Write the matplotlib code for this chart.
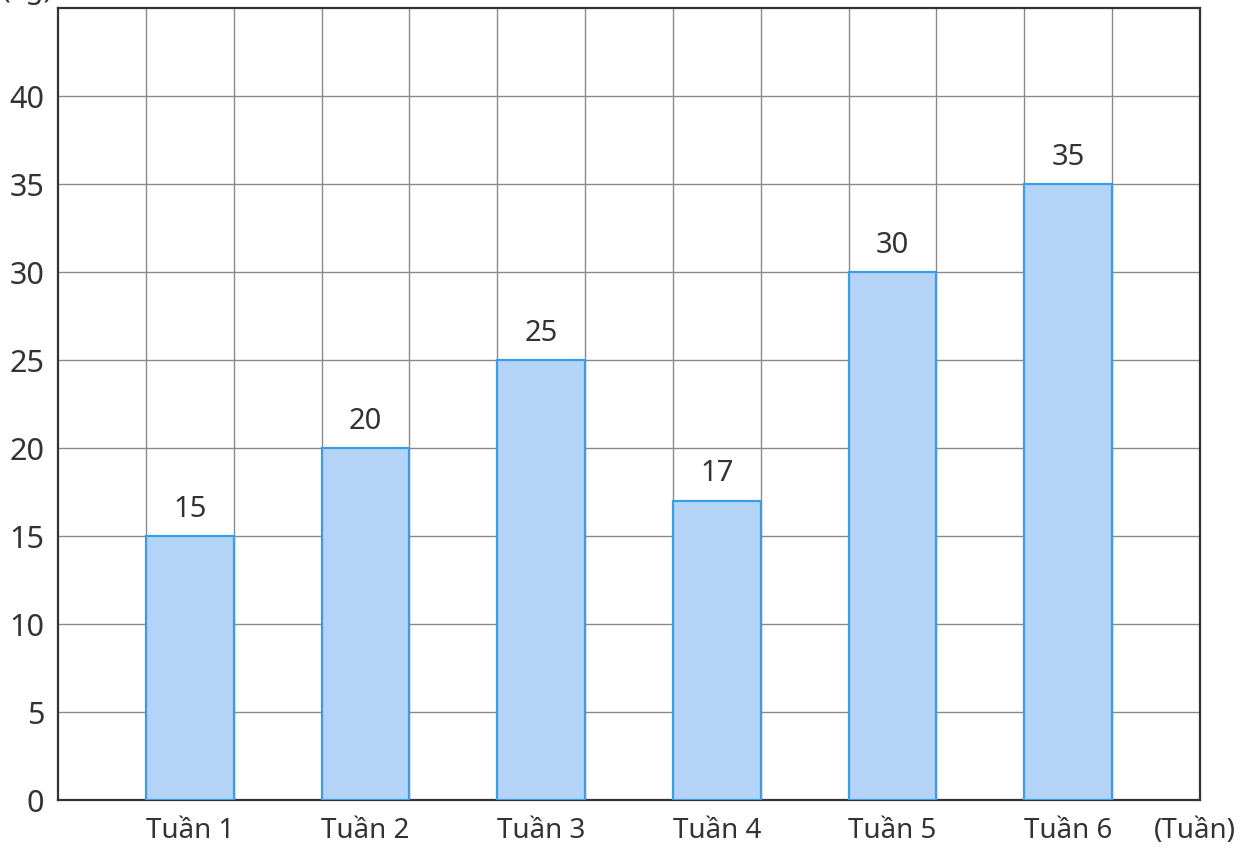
import numpy as np
import matplotlib.pyplot as plt

# ── Data ─────────────────────────────────────────────────────────────────────
weeks  = ["Tuần 1", "Tuần 2", "Tuần 3", "Tuần 4", "Tuần 5", "Tuần 6"]
values = [15, 20, 25, 17, 30, 35]
yticks = [0, 5, 10, 15, 20, 25, 30, 35, 40]

plt.rcParams['font.family'] = ['Noto Sans', 'DejaVu Sans']

fig = plt.figure(figsize=(12.49, 8.49), dpi=100)
ax = fig.add_axes([58/1249, 1 - 800/849, (1200 - 58)/1249, (800 - 8)/849])

# bars sit in every other grid cell, starting at cell 1
pos = np.arange(len(weeks)) * 2 + 1.5
ax.bar(pos, values, width=1.0, color='#b3d4f6', edgecolor='#3b9de6', lw=1.6, zorder=3)

for p, v in zip(pos, values):
    ax.text(p, v + 0.7, str(v), ha='center', va='bottom', fontsize=21, color='#333333')

ax.set_xlim(0, 13)
ax.set_ylim(0, 45)
ax.set_xticks(pos)
ax.set_xticklabels(weeks, fontsize=20, color='#333333')
ax.set_yticks(yticks)
ax.set_yticklabels([str(y) for y in yticks], fontsize=22, color='#333333')

# square grid: one cell per unit across, every 5 kg up
for xg in range(1, 13):
    ax.axvline(xg, color='#8a8a8a', lw=1.0, zorder=0)
for yg in range(5, 45, 5):
    ax.axhline(yg, color='#8a8a8a', lw=1.0, zorder=0)

ax.tick_params(which='both', length=0)
ax.tick_params(axis='x', pad=12)
ax.tick_params(axis='y', pad=10)

for s in ax.spines.values():
    s.set_color('#333333')
    s.set_linewidth(1.6)

ax.annotate("(Tuần)", xy=(1, 0), xycoords='axes fraction', xytext=(-4, -12),
            textcoords='offset points', ha='center', va='top', fontsize=20, color='#333333')
ax.annotate("(kg)", xy=(0, 1), xycoords='axes fraction', xytext=(-22, 2),
            textcoords='offset points', ha='center', va='bottom', fontsize=21, color='#333333')

fig.savefig("out.png", dpi=100)
